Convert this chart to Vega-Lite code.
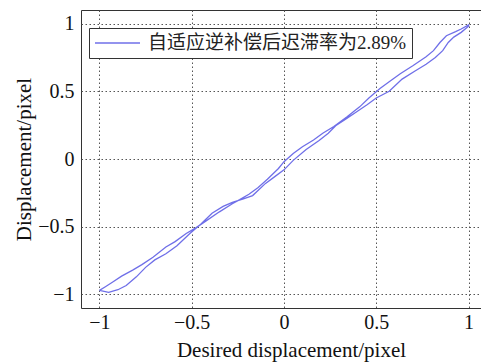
{
  "$schema": "https://vega.github.io/schema/vega-lite/v6.json",
  "autosize": {"type": "none"},
  "padding": {"left": 81, "top": 10, "right": 0, "bottom": 56},
  "width": 406,
  "height": 298,
  "background": "white",
  "config": {
    "view": {"stroke": "#333", "strokeWidth": 1},
    "axis": {
      "labelFont": "Liberation Serif, serif",
      "titleFont": "Liberation Serif, serif",
      "labelFontSize": 20,
      "titleFontSize": 21,
      "labelColor": "#111",
      "titleColor": "#111",
      "titleFontWeight": "normal",
      "domain": false,
      "ticks": false,
      "gridColor": "#555",
      "gridDash": [1.5, 2.5],
      "gridWidth": 1,
      "gridOpacity": 1
    }
  },
  "data": {
    "values": [
      {"o": 0, "x": -1.0, "y": -0.97},
      {"o": 1, "x": -0.95, "y": -0.985},
      {"o": 2, "x": -0.9, "y": -0.965},
      {"o": 3, "x": -0.855, "y": -0.934},
      {"o": 4, "x": -0.8, "y": -0.87},
      {"o": 5, "x": -0.75, "y": -0.8},
      {"o": 6, "x": -0.7, "y": -0.745},
      {"o": 7, "x": -0.64, "y": -0.7},
      {"o": 8, "x": -0.58, "y": -0.64},
      {"o": 9, "x": -0.51, "y": -0.55},
      {"o": 10, "x": -0.45, "y": -0.48},
      {"o": 11, "x": -0.39, "y": -0.4},
      {"o": 12, "x": -0.33, "y": -0.35},
      {"o": 13, "x": -0.28, "y": -0.32},
      {"o": 14, "x": -0.22, "y": -0.295},
      {"o": 15, "x": -0.17, "y": -0.27},
      {"o": 16, "x": -0.1, "y": -0.18},
      {"o": 17, "x": -0.05, "y": -0.13},
      {"o": 18, "x": 0.0, "y": -0.08},
      {"o": 19, "x": 0.05, "y": -0.01},
      {"o": 20, "x": 0.12, "y": 0.07},
      {"o": 21, "x": 0.19, "y": 0.137},
      {"o": 22, "x": 0.24, "y": 0.19},
      {"o": 23, "x": 0.28, "y": 0.245},
      {"o": 24, "x": 0.34, "y": 0.3},
      {"o": 25, "x": 0.39, "y": 0.345},
      {"o": 26, "x": 0.45, "y": 0.4},
      {"o": 27, "x": 0.5, "y": 0.45},
      {"o": 28, "x": 0.57, "y": 0.5},
      {"o": 29, "x": 0.64, "y": 0.59},
      {"o": 30, "x": 0.71, "y": 0.65},
      {"o": 31, "x": 0.77, "y": 0.7},
      {"o": 32, "x": 0.82, "y": 0.75},
      {"o": 33, "x": 0.86, "y": 0.8},
      {"o": 34, "x": 0.89, "y": 0.86},
      {"o": 35, "x": 0.92, "y": 0.9},
      {"o": 36, "x": 0.96, "y": 0.935},
      {"o": 37, "x": 1.0, "y": 0.98},
      {"o": 38, "x": 1.0, "y": 0.99},
      {"o": 39, "x": 0.96, "y": 0.96},
      {"o": 40, "x": 0.93, "y": 0.94},
      {"o": 41, "x": 0.88, "y": 0.91},
      {"o": 42, "x": 0.845, "y": 0.86},
      {"o": 43, "x": 0.81, "y": 0.8},
      {"o": 44, "x": 0.77, "y": 0.755},
      {"o": 45, "x": 0.7, "y": 0.69},
      {"o": 46, "x": 0.63, "y": 0.63},
      {"o": 47, "x": 0.57, "y": 0.57},
      {"o": 48, "x": 0.52, "y": 0.52},
      {"o": 49, "x": 0.46, "y": 0.45},
      {"o": 50, "x": 0.41, "y": 0.385},
      {"o": 51, "x": 0.34, "y": 0.31},
      {"o": 52, "x": 0.27, "y": 0.24},
      {"o": 53, "x": 0.21, "y": 0.19},
      {"o": 54, "x": 0.16, "y": 0.14},
      {"o": 55, "x": 0.1, "y": 0.09},
      {"o": 56, "x": 0.05, "y": 0.04},
      {"o": 57, "x": 0.0, "y": -0.02},
      {"o": 58, "x": -0.03, "y": -0.07},
      {"o": 59, "x": -0.09, "y": -0.15},
      {"o": 60, "x": -0.14, "y": -0.21},
      {"o": 61, "x": -0.19, "y": -0.26},
      {"o": 62, "x": -0.24, "y": -0.3},
      {"o": 63, "x": -0.28, "y": -0.33},
      {"o": 64, "x": -0.35, "y": -0.39},
      {"o": 65, "x": -0.42, "y": -0.455},
      {"o": 66, "x": -0.48, "y": -0.51},
      {"o": 67, "x": -0.53, "y": -0.55},
      {"o": 68, "x": -0.59, "y": -0.61},
      {"o": 69, "x": -0.64, "y": -0.65},
      {"o": 70, "x": -0.71, "y": -0.725},
      {"o": 71, "x": -0.77, "y": -0.78},
      {"o": 72, "x": -0.82, "y": -0.82},
      {"o": 73, "x": -0.88, "y": -0.865},
      {"o": 74, "x": -0.93, "y": -0.91},
      {"o": 75, "x": -0.97, "y": -0.945},
      {"o": 76, "x": -1.0, "y": -0.97}
    ]
  },
  "transform": [{"calculate": "'自适应逆补偿后迟滞率为2.89%'", "as": "series"}],
  "mark": {"type": "line", "strokeWidth": 1.3, "clip": true},
  "encoding": {
    "x": {
      "field": "x", "type": "quantitative",
      "scale": {"domain": [-1.1, 1.1], "nice": false, "zero": false},
      "axis": {"values": [-1, -0.5, 0, 0.5, 1], "format": "~g", "title": "Desired displacement/pixel", "labelPadding": 4, "titlePadding": 7, "titleX": 210}
    },
    "y": {
      "field": "y", "type": "quantitative",
      "scale": {"domain": [-1.1, 1.1], "nice": false, "zero": false},
      "axis": {"values": [-1, -0.5, 0, 0.5, 1], "format": "~g", "title": "Displacement/pixel", "labelPadding": 7, "titlePadding": 3}
    },
    "order": {"field": "o", "type": "quantitative"},
    "color": {
      "field": "series", "type": "nominal",
      "scale": {"range": ["#6f6fe8"]},
      "legend": {
        "title": null,
        "orient": "none",
        "legendX": 8,
        "legendY": 18,
        "symbolType": "stroke",
        "symbolSize": 2025,
        "symbolStrokeWidth": 1.5,
        "clipHeight": 20,
        "labelFont": "Liberation Serif, Noto Sans CJK SC, serif",
        "labelFontSize": 19,
        "labelColor": "#222",
        "labelOffset": 7,
        "labelLimit": 400,
        "padding": 5,
        "strokeColor": "#333",
        "fillColor": "white"
      }
    }
  }
}
